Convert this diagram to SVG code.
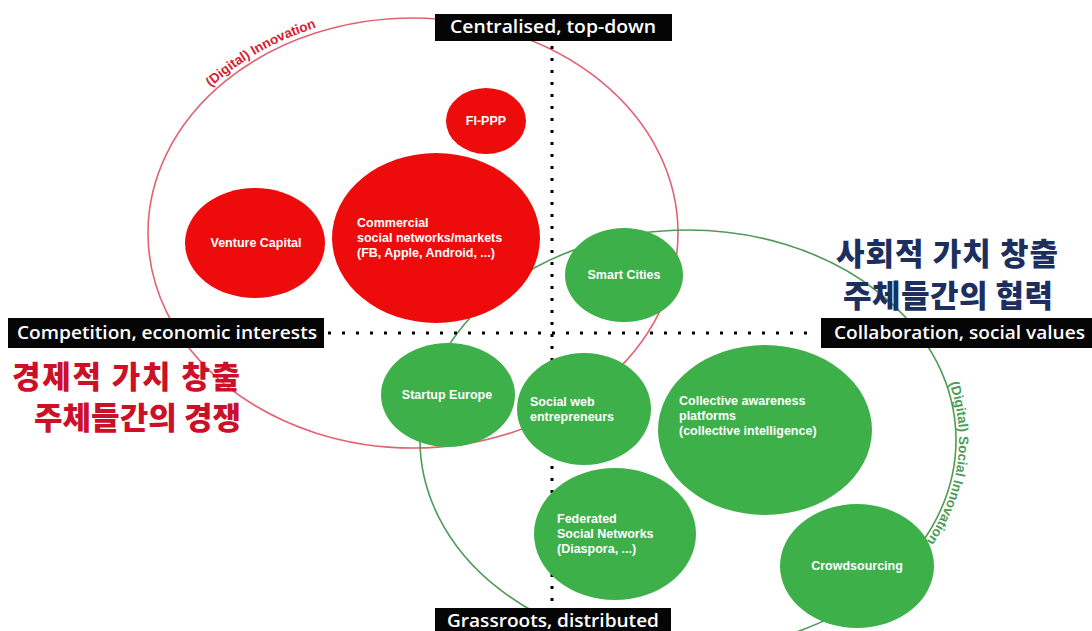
<svg xmlns="http://www.w3.org/2000/svg" width="1092" height="631" viewBox="0 0 1092 631">
<defs>
<style>
.lbl rect{fill:#050505}
.lbl text{fill:#fff;font-family:"Open Sans","Liberation Sans",sans-serif;font-size:17.5px;font-weight:600}
.red{fill:#ee0b0b}
.grn{fill:#3db04a}
.ct{fill:#fff;font-family:"Liberation Sans",Arial,sans-serif;font-weight:bold;font-size:12.5px}
.mid{text-anchor:middle}
.kr{font-family:"Noto Sans CJK KR",sans-serif;font-weight:900;font-size:31px}
.vdot{stroke:#000;stroke-width:3;stroke-dasharray:3 9;fill:none}
.hdot{stroke:#000;stroke-width:3;stroke-dasharray:3 11;fill:none}
.arc{font-family:"Liberation Sans",Arial,sans-serif;font-size:13.5px;font-weight:bold}
</style>
<path id="rarc" d="M152.2,176 A270,220 0 0,1 436.5,13.9" fill="none"/>
<path id="garc" d="M910,317.7 A271,213 0 0,1 872.8,595.7" fill="none"/>
</defs>
<rect width="1092" height="631" fill="#fff"/>
<g id="connectors">
 <ellipse cx="413" cy="233" rx="265" ry="215" fill="none" stroke="#e26272" stroke-width="1.6"/>
 <ellipse cx="688" cy="440" rx="268" ry="210" fill="none" stroke="#4c9c58" stroke-width="1.6"/>
 <line x1="552" y1="46" x2="552" y2="606" class="vdot"/>
 <line x1="328" y1="333" x2="818" y2="333" class="hdot"/>
</g>
<g id="arc-labels">
 <text class="arc" fill="#d8202f"><textPath href="#rarc" startOffset="48%" text-anchor="middle">(Digital) Innovation</textPath></text>
 <text class="arc" fill="#4c9c58" font-weight="normal" font-size="14"><textPath href="#garc" startOffset="50%" text-anchor="middle">(Digital) Social Innovation</textPath></text>
</g>
<g id="fi-ppp"><ellipse class="red" cx="486" cy="121" rx="40" ry="33"/><text class="ct mid" x="486" y="125" font-size="11">FI-PPP</text></g>
<g id="venture-capital"><ellipse class="red" cx="255" cy="243" rx="70" ry="55"/><text class="ct mid" x="256" y="247">Venture Capital</text></g>
<g id="commercial"><ellipse class="red" cx="436" cy="238" rx="104" ry="85"/><text class="ct" x="357" y="227">Commercial<tspan x="357" dy="15">social networks/markets</tspan><tspan x="357" dy="15">(FB, Apple, Android, ...)</tspan></text></g>
<g id="smart-cities"><ellipse class="grn" cx="624" cy="275" rx="59" ry="47"/><text class="ct mid" x="624" y="279">Smart Cities</text></g>
<g id="startup-europe"><ellipse class="grn" cx="448" cy="395" rx="67" ry="52"/><text class="ct mid" x="447" y="399">Startup Europe</text></g>
<g id="social-web"><ellipse class="grn" cx="584" cy="409" rx="67" ry="56"/><text class="ct" x="530" y="406">Social web<tspan x="530" dy="15">entrepreneurs</tspan></text></g>
<g id="collective"><ellipse class="grn" cx="765" cy="430" rx="107" ry="85"/><text class="ct" x="679" y="405">Collective awareness<tspan x="679" dy="15">platforms</tspan><tspan x="679" dy="15">(collective intelligence)</tspan></text></g>
<g id="federated"><ellipse class="grn" cx="615" cy="534" rx="81" ry="66"/><text class="ct" x="557" y="523">Federated<tspan x="557" dy="15">Social Networks</tspan><tspan x="557" dy="15">(Diaspora, ...)</tspan></text></g>
<g id="crowdsourcing"><ellipse class="grn" cx="857" cy="566" rx="77" ry="62"/><text class="ct mid" x="857" y="570">Crowdsourcing</text></g>
<g id="top-label" class="lbl"><rect x="435" y="14" width="237" height="27"/><text x="553" y="33" text-anchor="middle" textLength="206" lengthAdjust="spacingAndGlyphs">Centralised, top-down</text></g>
<g id="left-label" class="lbl"><rect x="8" y="318" width="316" height="30"/><text x="17" y="339" textLength="300" lengthAdjust="spacingAndGlyphs">Competition, economic interests</text></g>
<g id="right-label" class="lbl"><rect x="821" y="318" width="271" height="30"/><text x="834" y="339" textLength="251" lengthAdjust="spacingAndGlyphs">Collaboration, social values</text></g>
<g id="bottom-label" class="lbl"><rect x="435" y="608" width="236" height="30"/><text x="447" y="627" textLength="212" lengthAdjust="spacingAndGlyphs">Grassroots, distributed</text></g>
<g id="social-ko"><text class="kr" fill="#1d2f5e" x="836" y="265" textLength="222">사회적 가치 창출</text><text class="kr" fill="#1d2f5e" x="843" y="307" textLength="210">주체들간의 협력</text></g>
<g id="economic-ko"><text class="kr" fill="#cc1028" x="12" y="388" textLength="228" font-size="30">경제적 가치 창출</text><text class="kr" fill="#cc1028" x="34" y="429" textLength="207" font-size="30">주체들간의 경쟁</text></g>
</svg>
